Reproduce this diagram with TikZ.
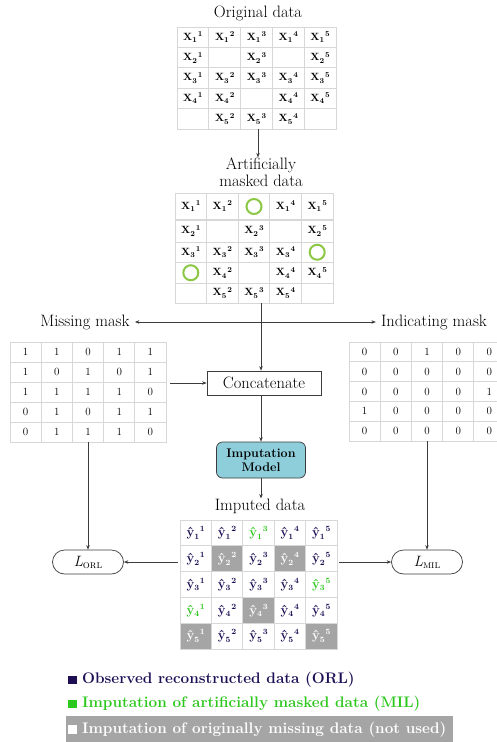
\documentclass[tikz,border=0pt]{standalone}
\usepackage{fontspec}
\usetikzlibrary{arrows.meta}
\definecolor{navy}{RGB}{30,15,85}
\definecolor{grn}{RGB}{45,200,30}
\definecolor{ringc}{RGB}{140,200,70}
\definecolor{cellgray}{RGB}{165,165,165}
\definecolor{gridc}{RGB}{215,215,215}
\definecolor{boxblue}{RGB}{142,205,218}
\definecolor{linec}{RGB}{60,60,60}
\tikzset{
 lbl/.style={font=\fontsize{16.5}{18}\selectfont\addfontfeatures{LetterSpace=2.5}, inner sep=0pt, align=center},
 tbl/.style={draw=gridc, line width=0.7pt, inner sep=0pt},
 gridl/.style={draw=gridc, line width=0.7pt},
 arr/.style={draw=linec, line width=0.7pt, -{Stealth[length=4.5pt,width=3.5pt]}},
 ln/.style={draw=linec, line width=0.7pt},
 xcell/.style={font=\fontsize{10.5}{12}\selectfont, inner sep=0pt},
 mcell/.style={font=\fontsize{11}{12}\selectfont, inner sep=0pt},
 ycell/.style={font=\fontsize{13}{14}\selectfont, inner sep=0pt},
 ringn/.style={draw=ringc, line width=2pt, circle, minimum size=15pt, inner sep=0pt},
 lossbox/.style={draw=linec, line width=0.7pt, rounded corners=12pt, minimum width=71pt, minimum height=24pt, inner sep=0pt, font=\fontsize{15}{16}\selectfont},
 legtxt/.style={anchor=west, inner sep=0pt, font=\bfseries\fontsize{15.3}{16}\selectfont},
 legsq/.style={minimum size=8.5pt, inner sep=0pt},
}
\newcommand\smallbf{\fontsize{7.5}{8}\selectfont\bfseries}
\newcommand\xv[2]{\textbf{X}\raisebox{-2.5pt}{\smallbf #1}\kern1pt\raisebox{3.5pt}{\smallbf #2}}
\newcommand\yv[2]{\textbf{ŷ}\raisebox{-2.5pt}{\fontsize{8}{8}\selectfont\bfseries #1}\kern0.8pt\raisebox{5pt}{\fontsize{8}{8}\selectfont\bfseries #2}}
\newcommand\lossl[1]{\textit{L}\raisebox{-2pt}{\fontsize{11}{11}\selectfont\textsc{#1}}}
\begin{document}
\begin{tikzpicture}[x=1pt,y=-1pt]
\useasboundingbox (0,0) rectangle (496,742);
\fill[white] (0,0) rectangle (496,742);

% ---------- Original data
\node[lbl] (t-orig) at (258,13) {Original data};
\node[tbl, minimum width=159pt, minimum height=102pt] (orig) at (256.5,78) {};
\foreach \i in {1,...,4}{
  \draw[gridl] ({177+\i*31.8},27) -- ({177+\i*31.8},129);
  \draw[gridl] (177,{27+\i*20.4}) -- (336,{27+\i*20.4});
}
\foreach \r/\c in {1/1,1/2,1/3,1/4,1/5,2/1,2/3,2/5,3/1,3/2,3/3,3/4,3/5,4/1,4/2,4/4,4/5,5/2,5/3,5/4}
  \node[xcell] (o\r\c) at ({177+(\c-0.5)*31.8},{27+(\r-0.5)*20.4}) {\xv{\r}{\c}};

% ---------- Artificially masked data
\node[lbl] (t-art) at (261,172) {Artificially\\[-1pt]masked data};
\node[tbl, minimum width=158pt, minimum height=110pt] (art) at (254,248) {};
\foreach \i in {1,...,4}
  \draw[gridl] ({175+\i*31.6},193) -- ({175+\i*31.6},303);
\draw[gridl, line width=1.3pt] (175,220) -- (333,220);
\foreach \yy in {242,262.5,283}
  \draw[gridl] (175,\yy) -- (333,\yy);
\foreach \r/\c/\yy in {1/1/206.5,1/2/206.5,1/4/206.5,1/5/206.5,2/1/231,2/3/231,2/5/231,3/1/252.25,3/2/252.25,3/3/252.25,3/4/252.25,4/2/272.75,4/4/272.75,4/5/272.75,5/2/293,5/3/293,5/4/293}
  \node[xcell] (a\r\c) at ({175+(\c-0.5)*31.6},\yy) {\xv{\r}{\c}};
\node[ringn] (ring13) at (254,206.5) {};
\node[ringn] (ring35) at (317.2,252.25) {};
\node[ringn] (ring41) at (190.8,272.75) {};

% ---------- masks
\node[lbl, anchor=center] (t-mm) at (85,322) {Missing mask};
\node[lbl, anchor=center] (t-im) at (434,322) {Indicating mask};
\node[tbl, minimum width=156pt, minimum height=100pt] (mm) at (88,392) {};
\foreach \i in {1,...,4}{
  \draw[gridl] ({10+\i*31.2},342) -- ({10+\i*31.2},442);
  \draw[gridl] (10,{342+\i*20}) -- (166,{342+\i*20});
}
\foreach \r/\vals in {1/{1,1,0,1,1},2/{1,0,1,0,1},3/{1,1,1,1,0},4/{0,1,0,1,1},5/{0,1,1,1,0}}
  \foreach \v [count=\c] in \vals
    \node[mcell] (m\r\c) at ({10+(\c-0.5)*31.2},{342+(\r-0.5)*20}) {\v};

\node[tbl, minimum width=156pt, minimum height=99pt] (im) at (427,391.5) {};
\foreach \i in {1,...,4}{
  \draw[gridl] ({349+\i*31.2},342) -- ({349+\i*31.2},441);
  \draw[gridl] (349,{342+\i*19.8}) -- (505,{342+\i*19.8});
}
\foreach \r/\vals in {1/{0,0,1,0,0},2/{0,0,0,0,0},3/{0,0,0,0,1},4/{1,0,0,0,0},5/{0,0,0,0,0}}
  \foreach \v [count=\c] in \vals
    \node[mcell] (i\r\c) at ({349+(\c-0.5)*31.2},{342+(\r-0.5)*19.8}) {\v};

% ---------- processing boxes
\node[draw=linec, line width=0.7pt, minimum width=114pt, minimum height=24pt, inner sep=0pt,
      font=\fontsize{16.5}{18}\selectfont\addfontfeatures{LetterSpace=2.5}] (concat) at (264,383) {Concatenate};
\node[draw=linec, line width=0.7pt, fill=boxblue, rounded corners=6pt, minimum width=89pt,
      minimum height=36pt, inner sep=0pt, align=center,
      font=\bfseries\fontsize{12.5}{14.5}\selectfont] (model) at (261,460) {Imputation\\Model};

% ---------- imputed data
\node[lbl] (t-imp) at (260,506) {Imputed data};
\foreach \r/\c in {2/2,2/4,4/3,5/1,5/5}
  \fill[cellgray] ({180+(\c-1)*31.4},{520+(\r-1)*25.8}) rectangle ++(31.4,25.8);
\node[tbl, minimum width=157pt, minimum height=129pt] (imp) at (258.5,584.5) {};
\foreach \i in {1,...,4}{
  \draw[gridl] ({180+\i*31.4},520) -- ({180+\i*31.4},649);
  \draw[gridl] (180,{520+\i*25.8}) -- (337,{520+\i*25.8});
}
\foreach \r in {1,...,5}
  \foreach \c in {1,...,5}{
    \def\cc{navy}
    \ifnum\r\c=13 \def\cc{grn}\fi
    \ifnum\r\c=35 \def\cc{grn}\fi
    \ifnum\r\c=41 \def\cc{grn}\fi
    \ifnum\r\c=22 \def\cc{white}\fi
    \ifnum\r\c=24 \def\cc{white}\fi
    \ifnum\r\c=43 \def\cc{white}\fi
    \ifnum\r\c=51 \def\cc{white}\fi
    \ifnum\r\c=55 \def\cc{white}\fi
    \node[ycell, text=\cc] (y\r\c) at ({180+(\c-0.5)*31.4},{520+(\r-0.5)*25.8}) {\yv{\r}{\c}};
  }

% ---------- losses
\node[lossbox] (lorl) at (88,562) {\lossl{orl}};
\node[lossbox] (lmil) at (427,562) {\lossl{mil}};

% ---------- connectors
\coordinate (jn) at (261,322);
\draw[arr] (orig.south -| t-orig) -- (t-art.north -| t-orig);
\draw[ln] (art.south -| jn) -- (jn);
\draw[arr] (jn) -- ([xshift=5pt]t-mm.east);
\draw[arr] (jn) -- ([xshift=-5pt]t-im.west);
\draw[arr] (jn) -- (concat.north -| jn);
\draw[arr] ([xshift=4pt]concat.west -| mm.east) -- (concat.west);
\draw[arr] (concat.south -| jn) -- (model.north -| jn);
\draw[arr] (model.south) -- (t-imp.north -| model.south);
\draw[arr] (mm.south) -- (lorl.north);
\draw[arr] (im.south) -- (lmil.north);
\draw[arr] ([xshift=-2pt]lorl.east -| imp.west) -- (lorl.east);
\draw[arr] ([xshift=2pt]lmil.west -| imp.east) -- (lmil.west);

% ---------- legend
\node[legsq, fill=navy] (sq1) at (72.5,680) {};
\node[legtxt, text=navy] (lg1) at (82,680) {Observed reconstructed data (ORL)};
\node[legsq, fill=grn] (sq2) at (72.5,704) {};
\node[legtxt, text=grn] (lg2) at (82,704) {Imputation of artificially masked data (MIL)};
\fill[cellgray] (66,716) rectangle (453,742);
\node[legsq, fill=white] (sq3) at (72.5,729.5) {};
\node[legtxt, text=white] (lg3) at (82,729.5) {Imputation of originally missing data (not used)};
\end{tikzpicture}
\end{document}
